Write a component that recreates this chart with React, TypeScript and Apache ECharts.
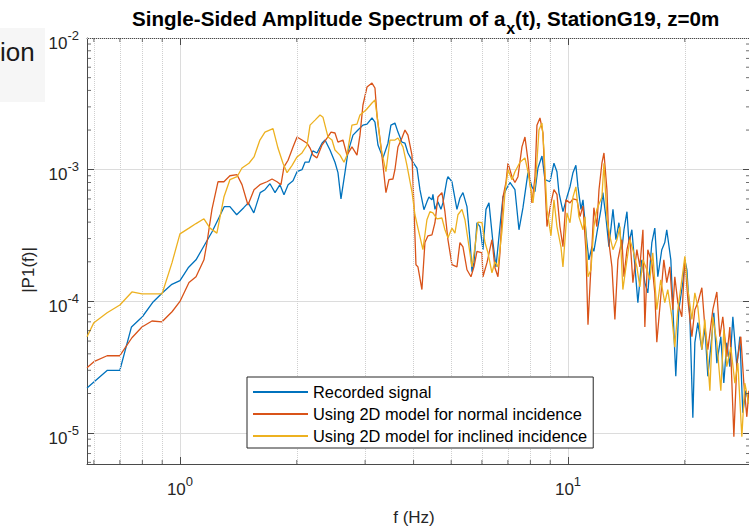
import React, { useEffect, useRef } from 'react';
import * as echarts from 'echarts';

const FONT = "'Liberation Sans', Arial, Helvetica, sans-serif";

// Axis limits
const X_MIN = 0.576;
const X_MAX = 29.45;
const Y_MIN = 5.83e-6;
const Y_MAX = 1e-2;

const seriesNames = [
  'Recorded signal',
  'Using 2D model for normal incidence',
  'Using 2D model for inclined incidence',
];
const seriesColors = ['#0072BD', '#D95319', '#EDB120'];

const xMinorTicks = [0.6, 0.7, 0.8, 0.9, 2, 3, 4, 5, 6, 7, 8, 9, 20];
const yMinorTicks = [
  6e-6, 7e-6, 8e-6, 9e-6,
  2e-5, 3e-5, 4e-5, 5e-5, 6e-5, 7e-5, 8e-5, 9e-5,
  2e-4, 3e-4, 4e-4, 5e-4, 6e-4, 7e-4, 8e-4, 9e-4,
  2e-3, 3e-3, 4e-3, 5e-3, 6e-3, 7e-3, 8e-3, 9e-3,
];

// [f (Hz), |P1(f)|]
const recorded: [number, number][] = [
  [0.576, 2.2e-5], [0.65, 3.0e-5], [0.70, 3.0e-5], [0.75, 6.4e-5], [0.80, 7.65e-5],
  [0.85, 9.8e-5], [0.90, 1.16e-4], [0.95, 1.34e-4], [1.00, 1.44e-4], [1.05, 1.8e-4],
  [1.10, 2.07e-4], [1.15, 2.6e-4], [1.21, 3.38e-4], [1.26, 4.32e-4], [1.30, 5.24e-4],
  [1.345, 5.24e-4], [1.40, 4.55e-4], [1.46, 5.15e-4], [1.50, 5.6e-4], [1.55, 4.7e-4],
  [1.61, 6.7e-4], [1.656, 7.05e-4], [1.706, 7.83e-4], [1.758, 6.7e-4], [1.81, 7.7e-4],
  [1.854, 6.46e-4], [1.90, 7.7e-4], [1.956, 8.25e-4], [2.003, 9.66e-4], [2.063, 1.0e-3],
  [2.10, 1.14e-3], [2.15, 1.14e-3], [2.20, 1.39e-3], [2.255, 1.34e-3], [2.323, 1.59e-3],
  [2.365, 1.68e-3], [2.436, 1.41e-3], [2.509, 1.14e-3], [2.554, 9.5e-4], [2.60, 6.0e-4],
  [2.662, 9.5e-4], [2.71, 1.36e-3], [2.792, 1.83e-3], [2.876, 2.0e-3], [2.962, 2.18e-3],
  [3.034, 2.22e-3], [3.125, 2.47e-3], [3.181, 2.3e-3], [3.238, 1.54e-3], [3.336, 1.23e-3],
  [3.436, 1.59e-3], [3.497, 2.18e-3], [3.581, 2.26e-3], [3.646, 1.93e-3], [3.733, 1.62e-3],
  [3.801, 1.59e-3], [3.869, 1.34e-3], [3.985, 1.14e-3], [4.081, 1.03e-3], [4.154, 7.05e-4],
  [4.254, 4.97e-4], [4.33, 5.7e-4], [4.382, 6.2e-4], [4.461, 5.9e-4], [4.487, 6.5e-4],
  [4.541, 5.0e-4], [4.622, 5.7e-4], [4.705, 5.0e-4], [4.761, 5.6e-4], [4.876, 8.4e-4],
  [4.905, 8.85e-4], [5.023, 8.1e-4], [5.174, 5.0e-4], [5.267, 6.1e-4], [5.362, 6.7e-4],
  [5.491, 5.24e-4], [5.59, 2.94e-4], [5.657, 1.68e-4], [5.724, 1.97e-4], [5.827, 3.96e-4],
  [5.932, 3.7e-4], [6.038, 2.47e-4], [6.147, 5.0e-4], [6.257, 5.6e-4], [6.407, 2.8e-4],
  [6.522, 1.83e-4], [6.679, 3.7e-4], [6.799, 6.2e-4], [6.921, 7.05e-4], [7.087, 8.0e-4],
  [7.30, 7.05e-4], [7.476, 3.5e-4], [7.656, 5.15e-4], [7.886, 9.5e-4], [8.075, 7.4e-4],
  [8.22, 6.8e-4], [8.368, 1.03e-3], [8.569, 1.27e-3], [8.723, 8.4e-4], [8.985, 8.1e-4],
  [9.201, 1.12e-3], [9.366, 9.66e-4], [9.478, 6.7e-4], [9.706, 4.8e-4], [9.94, 6.2e-4],
  [10.12, 7.4e-4], [10.30, 9.5e-4], [10.48, 1.08e-3], [10.61, 7.4e-4], [10.80, 5.0e-4],
  [10.93, 5.9e-4], [11.19, 2.8e-4], [11.32, 2.07e-4], [11.53, 2.6e-4], [11.66, 2.4e-4],
  [11.87, 3.3e-4], [12.16, 5.0e-4], [12.30, 6.7e-4], [12.52, 4.4e-4], [12.75, 2.6e-4],
  [13.06, 5.0e-4], [13.29, 2.94e-4], [13.53, 3.96e-4], [13.77, 2.47e-4], [13.94, 3.5e-4],
  [14.19, 4.8e-4], [14.36, 2.8e-4], [14.61, 3.5e-4], [14.88, 1.83e-4], [15.14, 9.8e-5],
  [15.50, 2.07e-4], [15.78, 1.39e-4], [16.06, 1.16e-4], [16.45, 2.8e-4], [16.74, 3.6e-4],
  [17.04, 1.54e-4], [17.45, 2.47e-4], [17.76, 2.8e-4], [17.97, 3.5e-4], [18.41, 2.07e-4],
  [18.63, 9.1e-5], [18.96, 2.7e-5], [19.30, 8.65e-5], [19.77, 1.39e-4], [20.01, 2.07e-4],
  [20.25, 1.74e-4], [20.61, 7.65e-5], [20.98, 1.31e-5], [21.23, 4.86e-5], [21.61, 6.9e-5],
  [22.13, 4.3e-5], [22.53, 6.4e-5], [22.93, 2.7e-5], [23.48, 5.4e-5], [23.76, 8.2e-5],
  [24.19, 3.4e-5], [24.77, 5.4e-5], [25.21, 2.4e-5], [25.66, 4.86e-5], [26.13, 3.2e-5],
  [26.60, 7.65e-5], [27.24, 3.2e-5], [27.73, 5.4e-5], [28.22, 1.43e-5], [28.73, 2.1e-5],
  [29.25, 1.7e-5],
];

const normalIncidence: [number, number][] = [
  [0.576, 3.14e-5], [0.60, 3.49e-5], [0.649, 3.87e-5], [0.70, 3.87e-5], [0.752, 5.3e-5],
  [0.798, 6.4e-5], [0.847, 7.1e-5], [0.899, 7.0e-5], [0.954, 8.35e-5], [1.0, 1.0e-4],
  [1.055, 1.39e-4], [1.10, 1.54e-4], [1.153, 2.07e-4], [1.174, 2.8e-4], [1.209, 5.0e-4],
  [1.253, 8.1e-4], [1.298, 8.1e-4], [1.345, 9.0e-4], [1.403, 9.16e-4], [1.445, 7.7e-4],
  [1.497, 5.4e-4], [1.552, 7.05e-4], [1.607, 7.7e-4], [1.676, 8.1e-4], [1.727, 8.5e-4],
  [1.779, 8.1e-4], [1.821, 7.7e-4], [1.854, 1.05e-3], [1.899, 1.18e-3], [1.956, 1.49e-3],
  [2.003, 1.77e-3], [2.063, 1.68e-3], [2.126, 1.59e-3], [2.164, 1.46e-3], [2.203, 1.29e-3],
  [2.255, 1.23e-3], [2.323, 1.54e-3], [2.393, 1.74e-3], [2.451, 1.93e-3], [2.509, 1.90e-3],
  [2.554, 1.62e-3], [2.631, 1.68e-3], [2.694, 1.29e-3], [2.775, 1.49e-3], [2.859, 1.29e-3],
  [2.91, 1.83e-3], [2.962, 3.1e-3], [3.034, 4.24e-3], [3.125, 4.55e-3], [3.181, 4.17e-3],
  [3.219, 2.6e-3], [3.297, 1.49e-3], [3.395, 6.7e-4], [3.456, 8.4e-4], [3.539, 8.5e-4],
  [3.581, 1.0e-3], [3.646, 1.49e-3], [3.733, 1.74e-3], [3.801, 2.0e-3], [3.869, 1.83e-3],
  [3.962, 1.29e-3], [4.009, 5.24e-4], [4.057, 1.9e-4], [4.105, 1.83e-4], [4.203, 1.23e-4],
  [4.279, 2.8e-4], [4.356, 3.15e-4], [4.461, 3.2e-4], [4.541, 3.96e-4], [4.622, 6.2e-4],
  [4.733, 6.7e-4], [4.818, 4.8e-4], [4.905, 2.94e-4], [5.023, 1.9e-4], [5.174, 1.83e-4],
  [5.267, 2.8e-4], [5.362, 2.6e-4], [5.491, 1.74e-4], [5.623, 1.54e-4], [5.724, 1.83e-4],
  [5.827, 2.4e-4], [6.003, 2.34e-4], [6.038, 1.54e-4], [6.184, 1.97e-4], [6.369, 2.94e-4],
  [6.483, 1.8e-4], [6.60, 1.54e-4], [6.679, 2.34e-4], [6.799, 6.2e-4], [6.921, 8.0e-4],
  [7.004, 1.12e-3], [7.172, 8.85e-4], [7.30, 8.0e-4], [7.432, 8.85e-4], [7.61, 1.49e-3],
  [7.747, 1.77e-3], [7.886, 1.18e-3], [8.075, 5.6e-4], [8.22, 8.7e-4], [8.318, 2.18e-3],
  [8.468, 2.47e-3], [8.62, 1.9e-3], [8.723, 8.0e-4], [8.827, 3.7e-4], [9.039, 5.6e-4],
  [9.201, 7.05e-4], [9.366, 6.5e-4], [9.534, 3.7e-4], [9.706, 2.6e-4], [9.881, 5.9e-4],
  [10.12, 5.6e-4], [10.30, 6.0e-4], [10.55, 5.9e-4], [10.74, 4.4e-4], [10.93, 5.3e-4],
  [11.12, 2.47e-4], [11.26, 6.65e-5], [11.46, 1.83e-4], [11.66, 5.15e-4], [11.87, 3.7e-4],
  [12.02, 7.05e-4], [12.23, 1.12e-3], [12.38, 1.34e-3], [12.60, 7.05e-4], [12.75, 2.8e-4],
  [12.98, 1.83e-4], [13.21, 7.3e-5], [13.45, 2.07e-4], [13.77, 2.94e-4], [13.94, 1.54e-4],
  [14.19, 2.47e-4], [14.44, 3.1e-4], [14.70, 1.39e-4], [15.05, 2.47e-4], [15.32, 1.83e-4],
  [15.60, 3.5e-4], [15.78, 6.4e-5], [16.06, 2.47e-4], [16.45, 1.97e-4], [16.74, 1.16e-4],
  [16.94, 4.9e-5], [17.34, 1.08e-4], [17.66, 2.07e-4], [17.97, 1.39e-4], [18.30, 1.83e-4],
  [18.63, 8.65e-5], [18.85, 1.54e-4], [19.19, 9.8e-5], [19.65, 7.65e-5], [20.01, 2.07e-4],
  [20.37, 1.03e-4], [20.86, 5.4e-5], [21.23, 8.65e-5], [21.61, 9.8e-5], [22.13, 1.27e-4],
  [22.53, 6.4e-5], [22.93, 4.3e-5], [23.62, 8.65e-5], [24.19, 1.18e-4], [24.62, 5.4e-5],
  [25.06, 7.65e-5], [25.66, 3.8e-5], [26.13, 6.4e-5], [26.76, 9.4e-6], [27.24, 3.4e-5],
  [27.89, 5.4e-5], [28.39, 2.4e-5], [28.90, 1.33e-5], [29.25, 2.1e-5],
];

const inclinedIncidence: [number, number][] = [
  [0.576, 5.4e-5], [0.60, 6.9e-5], [0.649, 8.2e-5], [0.70, 9.4e-5], [0.752, 1.18e-4],
  [0.798, 1.14e-4], [0.847, 1.14e-4], [0.899, 1.14e-4], [0.954, 1.97e-4], [1.0, 3.26e-4],
  [1.055, 3.6e-4], [1.10, 3.9e-4], [1.153, 4.24e-4], [1.195, 3.6e-4], [1.245, 3.3e-4],
  [1.298, 6.2e-4], [1.345, 8.4e-4], [1.403, 8.85e-4], [1.445, 1.03e-3], [1.506, 1.12e-3],
  [1.552, 1.25e-3], [1.607, 1.68e-3], [1.656, 1.93e-3], [1.737, 2.05e-3], [1.789, 1.46e-3],
  [1.843, 1.12e-3], [1.888, 9.5e-4], [1.945, 1.08e-3], [2.003, 1.25e-3], [2.063, 1.34e-3],
  [2.126, 1.54e-3], [2.164, 2.18e-3], [2.229, 2.38e-3], [2.296, 2.6e-3], [2.337, 2.5e-3],
  [2.408, 1.77e-3], [2.465, 1.68e-3], [2.509, 1.41e-3], [2.585, 1.29e-3], [2.647, 1.14e-3],
  [2.694, 1.29e-3], [2.775, 2.18e-3], [2.859, 2.22e-3], [2.91, 2.6e-3], [3.016, 2.84e-3],
  [3.125, 3.21e-3], [3.181, 3.38e-3], [3.219, 2.6e-3], [3.297, 1.46e-3], [3.395, 9.66e-4],
  [3.477, 1.68e-3], [3.581, 1.68e-3], [3.646, 1.74e-3], [3.756, 1.49e-3], [3.846, 1.08e-3],
  [3.962, 6.8e-4], [4.033, 4.55e-4], [4.105, 3.6e-4], [4.228, 2.47e-4], [4.33, 4.17e-4],
  [4.408, 4.8e-4], [4.487, 4.7e-4], [4.595, 4.24e-4], [4.733, 4.3e-4], [4.818, 3.5e-4],
  [4.905, 3.04e-4], [5.023, 3.6e-4], [5.113, 3.3e-4], [5.205, 4.55e-4], [5.33, 5.0e-4],
  [5.426, 4.17e-4], [5.524, 2.94e-4], [5.657, 1.83e-4], [5.758, 2.6e-4], [5.862, 4.0e-4],
  [6.003, 3.96e-4], [6.111, 2.8e-4], [6.22, 2.34e-4], [6.369, 1.65e-4], [6.483, 2.0e-4],
  [6.60, 1.83e-4], [6.758, 3.4e-4], [6.88, 6.7e-4], [7.004, 1.0e-3], [7.172, 8.4e-4],
  [7.30, 9.66e-4], [7.521, 1.14e-3], [7.747, 1.23e-3], [7.886, 9.66e-4], [8.123, 5.6e-4],
  [8.269, 8.85e-4], [8.418, 2.0e-3], [8.569, 2.26e-3], [8.671, 1.41e-3], [8.827, 5.0e-4],
  [9.039, 3.15e-4], [9.201, 5.9e-4], [9.366, 3.7e-4], [9.591, 2.6e-4], [9.706, 1.83e-4],
  [9.94, 4.7e-4], [10.12, 3.96e-4], [10.30, 6.2e-4], [10.48, 7.4e-4], [10.67, 4.4e-4],
  [10.93, 3.5e-4], [11.06, 4.4e-4], [11.26, 1.54e-4], [11.46, 1.74e-4], [11.66, 3.7e-4],
  [11.87, 5.0e-4], [12.23, 6.2e-4], [12.38, 1.12e-3], [12.60, 4.24e-4], [12.83, 3.1e-4],
  [13.06, 2.47e-4], [13.37, 2.94e-4], [13.61, 3.7e-4], [13.85, 1.23e-4], [14.19, 2.07e-4],
  [14.44, 2.94e-4], [14.70, 2.47e-4], [15.05, 1.83e-4], [15.32, 1.29e-4], [15.60, 2.07e-4],
  [15.97, 1.74e-4], [16.25, 1.46e-4], [16.54, 2.34e-4], [16.94, 8.65e-5], [17.34, 1.46e-4],
  [17.76, 9.8e-5], [18.08, 1.23e-4], [18.52, 7.65e-5], [18.85, 4.5e-5], [19.19, 8.65e-5],
  [19.65, 1.46e-4], [20.01, 2.2e-4], [20.37, 1.23e-4], [20.86, 7.3e-5], [21.23, 1.16e-4],
  [21.61, 9.1e-5], [22.13, 4.3e-5], [22.53, 7.3e-5], [23.21, 2.1e-5], [23.62, 7.65e-5],
  [24.19, 4.86e-5], [24.77, 2.1e-5], [25.21, 6.1e-5], [25.66, 3.2e-5], [26.28, 4.5e-5],
  [26.92, 2.4e-5], [27.40, 3.4e-5], [28.06, 9.4e-6], [28.56, 2.4e-5], [29.25, 1.67e-5],
];

const AXIS_COLOR = '#4a4a4a';
const TEXT_COLOR = '#262626';

const expLabel = (v: number) => {
  const e = Math.log10(v);
  const r = Math.round(e);
  if (Math.abs(e - r) > 1e-6) return '';
  return `{b|10}{s|${r}}`;
};

const labelRich = {
  b: {
    fontSize: 17,
    fontFamily: FONT,
    color: TEXT_COLOR,
    verticalAlign: 'bottom',
    padding: [10, 0, 0, 0],
  },
  s: {
    fontSize: 13,
    fontFamily: FONT,
    color: TEXT_COLOR,
    verticalAlign: 'bottom',
    padding: [0, 0, 10, 0],
  },
};

function tickSeries(data: [number, number][], size: number[], offset: number[]) {
  return {
    type: 'scatter',
    data,
    symbol: 'rect',
    symbolSize: size,
    symbolOffset: offset,
    itemStyle: { color: AXIS_COLOR },
    silent: true,
    clip: false,
    z: 5,
  };
}

export default function App() {
  const ref = useRef<HTMLDivElement>(null);

  useEffect(() => {
    if (!ref.current) return;
    const chart = echarts.init(ref.current, undefined, { renderer: 'svg' });

    const lineData = [recorded, normalIncidence, inclinedIncidence];

    const option: any = {
      animation: false,
      backgroundColor: '#ffffff',
      grid: { left: 87, top: 38, width: 663, height: 426, containLabel: false },
      xAxis: [
        {
          type: 'log',
          min: X_MIN,
          max: X_MAX,
          position: 'bottom',
          axisLine: { show: true, onZero: false, lineStyle: { color: AXIS_COLOR, width: 1 } },
          axisTick: { show: true, inside: true, length: 7, lineStyle: { color: AXIS_COLOR } },
          axisLabel: { formatter: expLabel, rich: labelRich, margin: 7 },
          splitLine: { show: true, lineStyle: { color: '#dcdcdc', width: 1 } },
        },
        {
          type: 'log',
          min: X_MIN,
          max: X_MAX,
          position: 'top',
          axisLine: { show: true, onZero: false, lineStyle: { color: AXIS_COLOR, width: 1 } },
          axisTick: { show: true, inside: true, length: 7, lineStyle: { color: AXIS_COLOR } },
          axisLabel: { show: false },
          splitLine: { show: false },
        },
      ],
      yAxis: [
        {
          type: 'log',
          min: Y_MIN,
          max: Y_MAX,
          position: 'left',
          axisLine: { show: true, onZero: false, lineStyle: { color: AXIS_COLOR, width: 1 } },
          axisTick: { show: true, inside: true, length: 7, lineStyle: { color: AXIS_COLOR } },
          axisLabel: { formatter: expLabel, rich: labelRich, margin: 8 },
          splitLine: { show: true, lineStyle: { color: '#dcdcdc', width: 1 } },
        },
        {
          type: 'log',
          min: Y_MIN,
          max: Y_MAX,
          position: 'right',
          axisLine: { show: true, onZero: false, lineStyle: { color: AXIS_COLOR, width: 1 } },
          axisTick: { show: true, inside: true, length: 7, lineStyle: { color: AXIS_COLOR } },
          axisLabel: { show: false },
          splitLine: { show: false },
        },
      ],
      legend: {
        data: seriesNames,
        left: 247,
        top: 377,
        orient: 'vertical',
        backgroundColor: '#ffffff',
        borderColor: '#262626',
        borderWidth: 1,
        padding: [7, 6, 4, 5],
        itemWidth: 55,
        itemHeight: 14,
        itemGap: 6,
        selectedMode: false,
        itemStyle: { opacity: 0 },
        textStyle: { fontSize: 16.4, fontFamily: FONT, color: '#000' },
        z: 10,
      },
      series: [
        {
          name: '_minorGrid',
          type: 'line',
          data: [[1, 1e-3]],
          symbol: 'none',
          lineStyle: { opacity: 0 },
          silent: true,
          z: 1,
          markLine: {
            silent: true,
            symbol: ['none', 'none'],
            label: { show: false },
            lineStyle: { type: 'dotted', color: '#cfcfcf', width: 1 },
            data: [
              ...xMinorTicks.map((v) => ({ xAxis: v })),
              ...yMinorTicks.map((v) => ({ yAxis: v })),
            ],
          },
        },
        ...lineData.map((d, i) => ({
          name: seriesNames[i],
          type: 'line',
          data: d,
          symbol: 'none',
          showSymbol: false,
          lineStyle: { color: seriesColors[i], width: 1.3 },
          itemStyle: { color: seriesColors[i] },
          z: 3 + i,
        })),
        tickSeries(xMinorTicks.map((v) => [v, Y_MIN] as [number, number]), [1, 4], [0, -2]),
        tickSeries(xMinorTicks.map((v) => [v, Y_MAX] as [number, number]), [1, 4], [0, 2]),
        tickSeries(yMinorTicks.map((v) => [X_MIN, v] as [number, number]), [4, 1], [2, 0]),
        tickSeries(yMinorTicks.map((v) => [X_MAX, v] as [number, number]), [4, 1], [-2, 0]),
      ],
      graphic: [
        {
          type: 'rect',
          shape: { x: 0, y: 28, width: 45, height: 74 },
          style: { fill: '#f6f6f6' },
          z: -1,
        },
        {
          type: 'text',
          x: 0,
          y: 52,
          style: {
            text: 'ion',
            fill: '#1a1a1a',
            font: `26px ${FONT}`,
            textAlign: 'left',
            textVerticalAlign: 'middle',
          },
        },
        {
          type: 'text',
          x: 132,
          y: 18,
          style: {
            text: '{b|Single-Sided Amplitude Spectrum of a}{sub|x}{b|(t), StationG19, z=0m}',
            textAlign: 'left',
            textVerticalAlign: 'middle',
            rich: {
              b: { fontSize: 20.6, fontWeight: 'bold', fontFamily: FONT, fill: '#000', color: '#000' },
              sub: {
                fontSize: 16,
                fontWeight: 'bold',
                fontFamily: FONT,
                fill: '#000',
                color: '#000',
                verticalAlign: 'bottom',
                padding: [20, 0, 0, 0],
              },
            },
          },
        },
        {
          type: 'text',
          x: 414,
          y: 517,
          style: {
            text: 'f (Hz)',
            fill: TEXT_COLOR,
            font: `17px ${FONT}`,
            textAlign: 'center',
            textVerticalAlign: 'middle',
          },
        },
        {
          type: 'text',
          x: 28,
          y: 270,
          rotation: Math.PI / 2,
          style: {
            text: '|P1(f)|',
            fill: TEXT_COLOR,
            font: `17px ${FONT}`,
            textAlign: 'center',
            textVerticalAlign: 'middle',
          },
        },
      ],
    };

    chart.setOption(option);
    return () => chart.dispose();
  }, []);

  return (
    <div
      style={{
        position: 'fixed',
        left: 0,
        top: 0,
        width: 749,
        height: 528,
        overflow: 'hidden',
        background: '#ffffff',
      }}
    >
      <div ref={ref} style={{ width: 760, height: 528 }} />
    </div>
  );
}
